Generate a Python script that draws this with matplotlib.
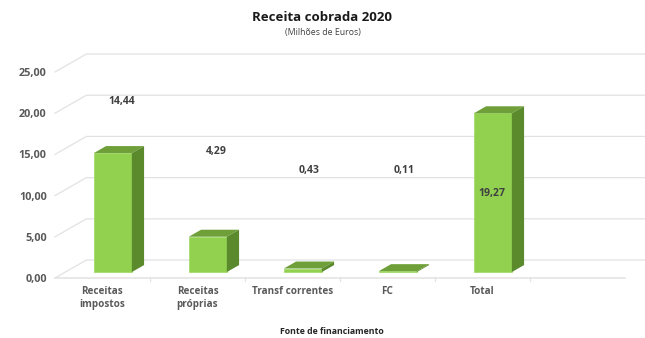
#!/usr/bin/env python3
import matplotlib.pyplot as plt

# Receita cobrada por fonte de financiamento (milhões de euros)
categorias = ["Receitas\nimpostos", "Receitas\npróprias", "Transf correntes", "FC", "Total", ""]
valores = [14.44, 4.29, 0.43, 0.11, 19.27]
rotulos = ["14,44", "4,29", "0,43", "0,11", "19,27"]
yticks = [0, 5, 10, 15, 20, 25]
ytick_labels = ["0,00", "5,00", "10,00", "15,00", "20,00", "25,00"]

# posição dos rótulos de valor (como ficaram no gráfico original do Excel)
rot_dx = [0.20, 0.20, 0.17, 0.18, 0.10]
rot_y = [21.4, 15.3, 13.1, 13.0, 10.2]

# efeito 3D: deslocamento da profundidade (unidades de dados)
DX = 0.33
DY = 2.18
F0, F1 = 0.33, 0.72     # frente / fundo das colunas
LARG = 0.40

cor_frente = "#92D050"
cor_topo = "#6E9F38"
cor_lado = "#5B8A2D"
cor_grelha = "#E2E2E2"
cor_texto = "#595959"

plt.rcParams['font.family'] = ['Open Sans', 'DejaVu Sans']

fig = plt.figure(figsize=(6.45, 3.38), dpi=100)
ax = fig.add_axes([55 / 645, 60 / 338, 570 / 645, 206 / 338])
ax.set_xlim(0, 6)
ax.set_ylim(0, 25)
for s in ax.spines.values():
    s.set_visible(False)

# paredes: linhas de grelha com perspetiva
for v in yticks:
    ax.plot([0, DX, 6 + DX], [v, v + DY, v + DY], color=cor_grelha, lw=0.9,
            clip_on=False, zorder=1)
ax.plot([0, 6], [0, 0], color=cor_grelha, lw=1.1, clip_on=False, zorder=1)
for k in range(1, 6):
    ax.plot([k, k], [-0.35, 0.15], color=cor_grelha, lw=0.9, clip_on=False, zorder=1)

# colunas 3D
d = F1 - F0
for i, v in enumerate(valores):
    x0 = i + 0.5 - LARG / 2 + F0 * DX
    x1 = x0 + LARG
    y0 = F0 * DY
    y1 = y0 + v
    ax.fill([x0, x1, x1, x0], [y0, y0, y1, y1], color=cor_frente,
            ec="#A6DC6E", lw=0.6, clip_on=False, zorder=3)
    ax.fill([x0, x1, x1 + d * DX, x0 + d * DX], [y1, y1, y1 + d * DY, y1 + d * DY],
            color=cor_topo, lw=0, clip_on=False, zorder=3)
    ax.fill([x1, x1 + d * DX, x1 + d * DX, x1], [y0, y0 + d * DY, y1 + d * DY, y1],
            color=cor_lado, lw=0, clip_on=False, zorder=3)
    ax.text(i + 0.5 + rot_dx[i], rot_y[i], rotulos[i], ha="center", va="center",
            fontsize=7.6, fontweight="bold", color="#404040", zorder=4)

ax.set_yticks(yticks)
ax.set_yticklabels(ytick_labels)
ax.set_xticks([i + 0.5 for i in range(len(categorias))])
ax.set_xticklabels(categorias, linespacing=1.15)
ax.tick_params(axis="y", length=0, pad=6, labelsize=7.8, labelcolor=cor_texto)
ax.tick_params(axis="x", length=0, pad=6, labelsize=7.1, labelcolor=cor_texto)
for lab in ax.get_xticklabels() + ax.get_yticklabels():
    lab.set_fontweight("bold")

fig.text(0.5, 0.947, "Receita cobrada 2020", ha="center", va="center",
         fontsize=9.5, fontweight="bold", color="#1a1a1a")
fig.text(0.5, 0.905, "(Milhões de Euros)", ha="center", va="center",
         fontsize=6.3, color="#404040")
fig.text(0.514, 0.018, "Fonte de financiamento", ha="center", va="center",
         fontsize=6.3, fontweight="bold", color="#262626")

fig.savefig("out.png", dpi=100)
